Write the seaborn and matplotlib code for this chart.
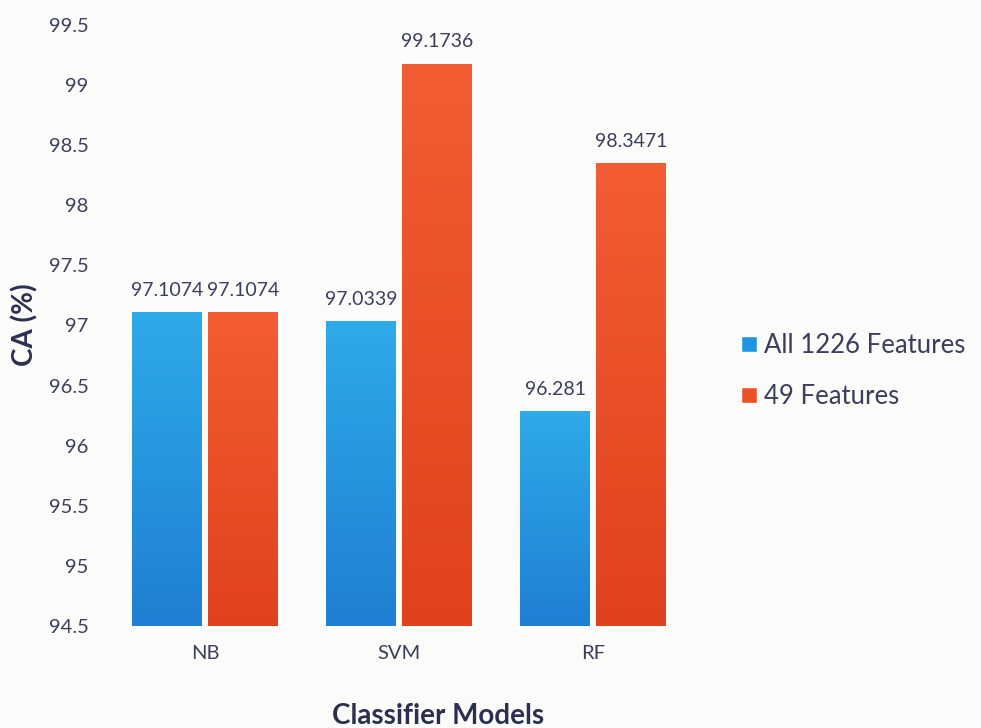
import numpy as np
import pandas as pd
import matplotlib
matplotlib.use("Agg")
import matplotlib.pyplot as plt
from matplotlib.colors import LinearSegmentedColormap
import seaborn as sns

# Classification accuracy per classifier, for the full and reduced feature sets
models = ["NB", "SVM", "RF"]
series_names = ["All 1226 Features", "49 Features"]
acc_all = [97.1074, 97.0339, 96.281]
acc_sel = [97.1074, 99.1736, 98.3471]
y_ticks = [94.5, 95, 95.5, 96, 96.5, 97, 97.5, 98, 98.5, 99, 99.5]

df = pd.DataFrame({
    "model": models * 2,
    "set": [series_names[0]] * 3 + [series_names[1]] * 3,
    "acc": acc_all + acc_sel,
})

sns.set_theme(style="white")
plt.rcParams["font.family"] = ["Lato", "DejaVu Sans"]

text_col = "#3c3f5c"
bold_col = "#2c3050"
bg = "#fbfbfa"
palette = {series_names[0]: "#2196e0", series_names[1]: "#ec5128"}
grads = {
    series_names[0]: ("#1f7fd4", "#2eaae9"),
    series_names[1]: ("#e0421d", "#f25d33"),
}

fig = plt.figure(figsize=(9.81, 7.28), dpi=100, facecolor=bg)
ax = fig.add_axes([108 / 981, 102 / 728, 582 / 981, 601 / 728])
ax.set_facecolor(bg)

sns.barplot(data=df, x="model", y="acc", hue="set", palette=palette,
            width=0.78, gap=0.08, ax=ax, legend=True)

ymin, ymax = y_ticks[0], y_ticks[-1]
ax.set_ylim(ymin, ymax)

# Replace flat bars by a vertical gradient (darker at the bottom)
for cont, name in zip(ax.containers, series_names):
    cmap = LinearSegmentedColormap.from_list(name, list(grads[name]))
    for bar in cont:
        x0 = bar.get_x()
        w = bar.get_width()
        top = bar.get_height()
        grad = np.linspace(0, 1, 256).reshape(-1, 1)
        ax.imshow(grad, cmap=cmap, origin="lower", aspect="auto",
                  extent=[x0, x0 + w, ymin, top], zorder=2)
        bar.set_alpha(0)
    ax.bar_label(cont, labels=[f"{v:g}" for v in cont.datavalues],
                 padding=10, fontsize=14, color=text_col)

ax.set_xlim(-0.5, 2.5)
ax.set_yticks(y_ticks)
ax.set_yticklabels([f"{t:g}" for t in y_ticks])
ax.tick_params(axis="y", length=0, pad=14, labelsize=14.5, labelcolor=text_col)
ax.tick_params(axis="x", length=0, pad=14, labelsize=14.5, labelcolor=text_col)
ax.set_xlabel("")
ax.set_ylabel("")
for s in ax.spines.values():
    s.set_visible(False)

fig.text(25 / 981, 1 - 325 / 728, "CA (%)", rotation=90, ha="center", va="center",
         fontsize=20, fontweight="bold", color=bold_col)
fig.text(438 / 981, 1 - 716 / 728, "Classifier Models", ha="center", va="center",
         fontsize=20, fontweight="bold", color=bold_col)

handles, labels = ax.get_legend_handles_labels()
for h, n in zip(handles, labels):
    h.set_alpha(1)
    h.set_facecolor(palette[n])
ax.legend(handles, labels, loc="center left", bbox_to_anchor=(718 / 981, 1 - 371 / 728),
          bbox_transform=fig.transFigure, frameon=False, fontsize=18.5,
          handlelength=0.6, handleheight=0.6, handletextpad=0.3,
          labelspacing=1.0, labelcolor=text_col)

fig.savefig("out.png", dpi=100, facecolor=bg)
